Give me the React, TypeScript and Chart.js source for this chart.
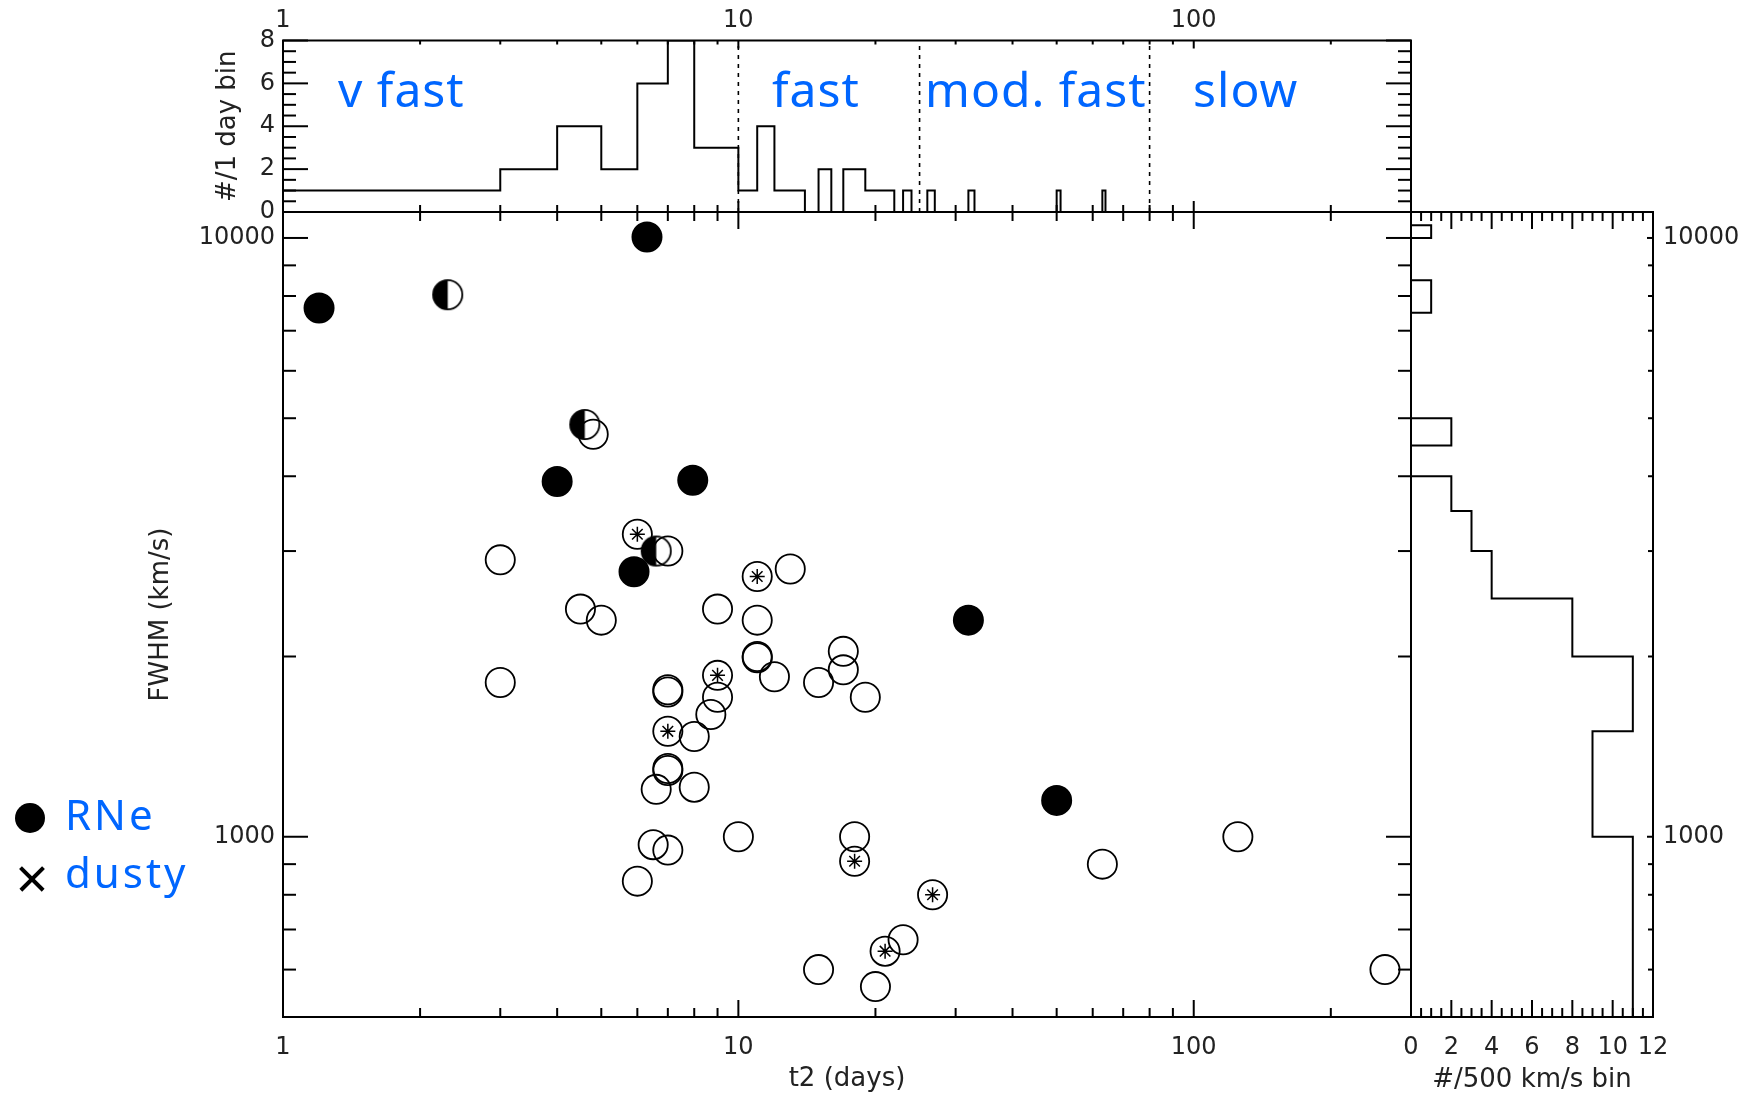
import React, { useEffect, useRef } from 'react';
import { Chart, registerables } from 'chart.js';

Chart.register(...registerables);

// ---------------- data ----------------
// Recurrent novae (filled circles)
const rneT2 = [1.2, 6.3, 4.0, 7.94, 5.9, 32, 50];
const rneFwhm = [7640, 10040, 3920, 3940, 2770, 2300, 1150];
// half-filled symbols
const halfT2 = [2.3, 4.6, 6.6];
const halfFwhm = [8040, 4880, 3000];
// dusty novae (circle with asterisk)
const dustyT2 = [6.0, 11, 9.0, 7.0, 18, 26.7, 21];
const dustyFwhm = [3200, 2720, 1860, 1500, 910, 800, 644];
// other novae (open circles)
const otherT2 = [4.8, 7.0, 3.0, 13, 4.5, 5.0, 9.0, 11, 11, 11, 12, 17, 17, 15, 19, 3.0, 7.0, 7.0, 9.0, 8.7, 8.0, 7.0, 7.0, 6.6, 8.0, 6.5, 7.0, 6.0, 10, 18, 125, 63, 23, 263, 15, 20];
const otherFwhm = [4700, 3000, 2900, 2800, 2400, 2300, 2400, 2300, 2000, 1990, 1850, 2040, 1900, 1810, 1710, 1810, 1760, 1745, 1710, 1600, 1470, 1300, 1290, 1200, 1210, 970, 950, 843, 1000, 1000, 1000, 900, 673, 600, 600, 562];

// t2 histogram (1 day bins): lower bin edges and counts
const t2BinLow = [1, 2, 3, 4, 5, 6, 7, 8, 9, 10, 11, 12, 13, 15, 17, 18, 19, 20, 21, 23, 26, 32, 50, 63];
const t2BinCount = [1, 1, 2, 4, 2, 6, 8, 3, 3, 1, 4, 1, 1, 2, 2, 2, 1, 1, 1, 1, 1, 1, 1, 1];
const t2BinWidth = 1;

// FWHM histogram (500 km/s bins)
const fwhmBinLow = [500, 1000, 1500, 2000, 2500, 3000, 3500, 4500, 7500, 8000, 10000];
const fwhmBinCount = [11, 9, 11, 8, 4, 3, 2, 2, 1, 1, 1];
const fwhmBinWidth = 500;

// speed class boundaries (days)
const speedClassBounds = [10, 25, 80];
const speedClassNames = ['v fast', 'fast', 'mod. fast', 'slow'];

// axis ranges and tick labels
const t2Range = [1, 300];
const fwhmRange = [500, 11050];
const histYRange = [0, 8];
const sideXRange = [0, 12];
const t2TickLabels = [1, 10, 100];
const t2MinorTicks = [2, 3, 4, 5, 6, 7, 8, 9, 20, 30, 40, 50, 60, 70, 80, 90, 200];
const fwhmTickLabels = [1000, 10000];
const fwhmMinorTicks = [600, 700, 800, 900, 2000, 3000, 4000, 5000, 6000, 7000, 8000, 9000];
const histYTickLabels = [0, 2, 4, 6, 8];
const histYMinorTicks = [0.5, 1, 1.5, 2.5, 3, 3.5, 4.5, 5, 5.5, 6.5, 7, 7.5];
const sideXTickLabels = [0, 2, 4, 6, 8, 10, 12];
const sideXMinorTicks = [0.5, 1, 1.5, 2.5, 3, 3.5, 4.5, 5, 5.5, 6.5, 7, 7.5, 8.5, 9, 9.5, 10.5, 11, 11.5];

// ---------------- helpers ----------------
const tickFont = { family: 'DejaVu Sans', size: 24 };
const titleFont = { family: 'DejaVu Sans', size: 26 };
const textColor = '#222';
const BLUE = '#0066ff';

function stepOutline(lows: number[], counts: number[], width: number, swap: boolean) {
  const pts: { x: number; y: number }[] = [];
  const push = (b: number, c: number) => pts.push(swap ? { x: c, y: b } : { x: b, y: c });
  for (let i = 0; i < lows.length; i++) {
    const lo = lows[i];
    const hi = lo + width;
    if (i === 0) push(lo, 0);
    else {
      const prevHi = lows[i - 1] + width;
      if (prevHi !== lo) {
        push(prevHi, 0);
        push(lo, 0);
      }
    }
    push(lo, counts[i]);
    push(hi, counts[i]);
  }
  push(lows[lows.length - 1] + width, 0);
  return pts;
}

function fixedSize(size: number, horizontal: boolean) {
  return (s: any) => {
    if (horizontal) s.height = size;
    else s.width = size;
    s.paddingLeft = 0;
    s.paddingRight = 0;
    s.paddingTop = 0;
    s.paddingBottom = 0;
  };
}

function setTicks(values: number[]) {
  return (s: any) => {
    s.ticks = values.map((v) => ({ value: v }));
  };
}

type TickSpec = { scale: string; side: 'top' | 'bottom' | 'left' | 'right'; values: number[]; len: number };

function framePlugin(id: string, specs: TickSpec[]) {
  return {
    id,
    afterDatasetsDraw(chart: any) {
      const { ctx, chartArea: a } = chart;
      ctx.save();
      ctx.strokeStyle = '#000';
      ctx.lineWidth = 2;
      ctx.lineCap = 'butt';
      for (const sp of specs) {
        const sc = chart.scales[sp.scale];
        for (const v of sp.values) {
          const p = sc.getPixelForValue(v);
          ctx.beginPath();
          if (sp.side === 'bottom') {
            ctx.moveTo(p, a.bottom);
            ctx.lineTo(p, a.bottom - sp.len);
          } else if (sp.side === 'top') {
            ctx.moveTo(p, a.top);
            ctx.lineTo(p, a.top + sp.len);
          } else if (sp.side === 'left') {
            ctx.moveTo(a.left, p);
            ctx.lineTo(a.left + sp.len, p);
          } else {
            ctx.moveTo(a.right, p);
            ctx.lineTo(a.right - sp.len, p);
          }
          ctx.stroke();
        }
      }
      ctx.lineJoin = 'miter';
      ctx.strokeRect(a.left, a.top, a.right - a.left, a.bottom - a.top);
      ctx.restore();
    },
  };
}

function halfFilledSymbol(r: number, lw: number) {
  const size = Math.ceil(2 * (r + lw)) + 2;
  const c = document.createElement('canvas');
  c.width = size;
  c.height = size;
  const g = c.getContext('2d') as CanvasRenderingContext2D;
  const m = size / 2;
  g.fillStyle = '#000';
  g.beginPath();
  g.moveTo(m, m);
  g.arc(m, m, r, Math.PI / 2, (3 * Math.PI) / 2);
  g.closePath();
  g.fill();
  g.lineWidth = lw;
  g.strokeStyle = '#000';
  g.beginPath();
  g.arc(m, m, r, 0, Math.PI * 2);
  g.stroke();
  return c;
}

const zip = (xs: number[], ys: number[]) => xs.map((x, i) => ({ x, y: ys[i] }));

const baseAxis = {
  bounds: 'data',
  grid: { display: false, drawTicks: false },
  border: { display: false },
};

const R = 14.6;
const LW = 1.8;

export default function App() {
  const topRef = useRef<HTMLCanvasElement>(null);
  const mainRef = useRef<HTMLCanvasElement>(null);
  const sideRef = useRef<HTMLCanvasElement>(null);

  useEffect(() => {
    const charts: Chart[] = [];
    const common = {
      responsive: false,
      animation: false,
      events: [],
      plugins: { legend: { display: false }, tooltip: { enabled: false } },
    };

    // ---------- top histogram ----------
    charts.push(
      new Chart(topRef.current as HTMLCanvasElement, {
        type: 'scatter',
        data: {
          datasets: [
            {
              data: stepOutline(t2BinLow, t2BinCount, t2BinWidth, false),
              showLine: true,
              pointRadius: 0,
              borderColor: '#000',
              borderWidth: 2,
              tension: 0,
            },
            ...speedClassBounds.map((b) => ({
              data: [
                { x: b, y: histYRange[0] },
                { x: b, y: histYRange[1] },
              ],
              showLine: true,
              pointRadius: 0,
              borderColor: '#000',
              borderWidth: 1.6,
              borderDash: [4, 5],
            })),
          ],
        },
        options: {
          ...common,
          layout: { autoPadding: false, padding: { left: 0, right: 9, top: 0, bottom: 28 } },
          scales: {
            x: {
              ...baseAxis,
              type: 'logarithmic',
              position: 'top',
              min: t2Range[0],
              max: t2Range[1],
              afterBuildTicks: setTicks(t2TickLabels),
              afterFit: fixedSize(40.5, true),
              ticks: { autoSkip: false, maxRotation: 0, minRotation: 0, padding: 5, font: tickFont, color: textColor, callback: (v: any) => String(v) },
            },
            y: {
              ...baseAxis,
              type: 'linear',
              position: 'left',
              min: histYRange[0],
              max: histYRange[1],
              afterBuildTicks: setTicks(histYTickLabels),
              afterFit: fixedSize(283, false),
              ticks: { autoSkip: false, padding: 8, font: tickFont, color: textColor, callback: (v: any) => String(v) },
              title: { display: true, text: '#/1 day bin', font: titleFont, color: textColor, padding: { top: 213, bottom: 0 } },
            },
          },
        } as any,
        plugins: [
          framePlugin('frameTop', [
            { scale: 'y', side: 'left', values: histYTickLabels, len: 25 },
            { scale: 'y', side: 'left', values: histYMinorTicks, len: 13 },
            { scale: 'y', side: 'right', values: histYTickLabels, len: 25 },
            { scale: 'y', side: 'right', values: histYMinorTicks, len: 13 },
            { scale: 'x', side: 'top', values: t2TickLabels, len: 8 },
            { scale: 'x', side: 'top', values: t2MinorTicks, len: 4 },
            { scale: 'x', side: 'bottom', values: t2TickLabels, len: 11 },
            { scale: 'x', side: 'bottom', values: t2MinorTicks, len: 7 },
          ]),
        ],
      } as any)
    );

    // ---------- main scatter ----------
    const half = halfFilledSymbol(R, LW);
    charts.push(
      new Chart(mainRef.current as HTMLCanvasElement, {
        type: 'scatter',
        data: {
          datasets: [
            {
              label: 'RNe',
              data: zip(rneT2, rneFwhm),
              pointStyle: 'circle',
              pointRadius: R,
              borderWidth: LW,
              borderColor: '#000',
              backgroundColor: '#000',
            },
            {
              label: 'half',
              data: zip(halfT2, halfFwhm),
              pointStyle: half,
              pointRadius: R,
            },
            {
              label: 'dusty star',
              data: zip(dustyT2, dustyFwhm),
              pointStyle: 'star',
              pointRadius: 7.5,
              borderWidth: 1.5,
              borderColor: '#000',
              backgroundColor: '#000',
            },
            {
              label: 'dusty',
              data: zip(dustyT2, dustyFwhm),
              pointStyle: 'circle',
              pointRadius: R,
              borderWidth: LW,
              borderColor: '#000',
              backgroundColor: 'rgba(0,0,0,0)',
            },
            {
              label: 'other',
              data: zip(otherT2, otherFwhm),
              pointStyle: 'circle',
              pointRadius: R,
              borderWidth: LW,
              borderColor: '#000',
              backgroundColor: 'rgba(0,0,0,0)',
            },
          ],
        },
        options: {
          ...common,
          layout: { autoPadding: false, padding: { left: 0, right: 9, top: 12, bottom: 0 } },
          scales: {
            x: {
              ...baseAxis,
              type: 'logarithmic',
              position: 'bottom',
              min: t2Range[0],
              max: t2Range[1],
              afterBuildTicks: setTicks(t2TickLabels),
              afterFit: fixedSize(81, true),
              ticks: { autoSkip: false, maxRotation: 0, minRotation: 0, padding: 16, font: tickFont, color: textColor, callback: (v: any) => String(v) },
              title: { display: true, text: 't2 (days)', font: titleFont, color: textColor, padding: { top: 0, bottom: 3 } },
            },
            y: {
              ...baseAxis,
              type: 'logarithmic',
              position: 'left',
              min: fwhmRange[0],
              max: fwhmRange[1],
              afterBuildTicks: setTicks(fwhmTickLabels),
              afterFit: fixedSize(283, false),
              ticks: { autoSkip: false, padding: 8, font: tickFont, color: textColor, callback: (v: any) => String(v) },
              title: { display: true, text: 'FWHM (km/s)', font: titleFont, color: textColor, padding: { top: 146, bottom: 0 } },
            },
          },
        } as any,
        plugins: [
          framePlugin('frameMain', [
            { scale: 'x', side: 'bottom', values: t2TickLabels, len: 17 },
            { scale: 'x', side: 'bottom', values: t2MinorTicks, len: 9 },
            { scale: 'x', side: 'top', values: t2TickLabels, len: 17 },
            { scale: 'x', side: 'top', values: t2MinorTicks, len: 9 },
            { scale: 'y', side: 'left', values: fwhmTickLabels, len: 25 },
            { scale: 'y', side: 'left', values: fwhmMinorTicks, len: 13 },
            { scale: 'y', side: 'right', values: fwhmTickLabels, len: 25 },
            { scale: 'y', side: 'right', values: fwhmMinorTicks, len: 13 },
          ]),
        ],
      } as any)
    );

    // ---------- side histogram ----------
    charts.push(
      new Chart(sideRef.current as HTMLCanvasElement, {
        type: 'scatter',
        data: {
          datasets: [
            {
              data: stepOutline(fwhmBinLow, fwhmBinCount, fwhmBinWidth, true),
              showLine: true,
              pointRadius: 0,
              borderColor: '#000',
              borderWidth: 2,
              tension: 0,
            },
          ],
        },
        options: {
          ...common,
          layout: { autoPadding: false, padding: { left: 11, right: 0, top: 12, bottom: 0 } },
          scales: {
            x: {
              ...baseAxis,
              type: 'linear',
              position: 'bottom',
              min: sideXRange[0],
              max: sideXRange[1],
              afterBuildTicks: setTicks(sideXTickLabels),
              afterFit: fixedSize(81, true),
              ticks: { autoSkip: false, maxRotation: 0, minRotation: 0, padding: 16, font: tickFont, color: textColor, callback: (v: any) => String(v) },
              title: { display: true, text: '#/500 km/s bin', font: titleFont, color: textColor, padding: { top: 0, bottom: 2 } },
            },
            y: {
              ...baseAxis,
              type: 'logarithmic',
              position: 'right',
              min: fwhmRange[0],
              max: fwhmRange[1],
              afterBuildTicks: setTicks(fwhmTickLabels),
              afterFit: fixedSize(98, false),
              ticks: { autoSkip: false, padding: 10, font: tickFont, color: textColor, callback: (v: any) => String(v) },
            },
          },
        } as any,
        plugins: [
          framePlugin('frameSide', [
            { scale: 'x', side: 'bottom', values: sideXTickLabels, len: 17 },
            { scale: 'x', side: 'bottom', values: sideXMinorTicks, len: 9 },
            { scale: 'x', side: 'top', values: sideXTickLabels, len: 17 },
            { scale: 'x', side: 'top', values: sideXMinorTicks, len: 9 },
            { scale: 'y', side: 'right', values: fwhmTickLabels, len: 6 },
            { scale: 'y', side: 'right', values: fwhmMinorTicks, len: 5 },
          ]),
        ],
      } as any)
    );

    return () => charts.forEach((c) => c.destroy());
  }, []);

  const classLabelStyle = (left: number): React.CSSProperties => ({
    position: 'absolute',
    left,
    top: 64.5,
    fontFamily: "'Noto Sans', sans-serif",
    fontSize: 48,
    lineHeight: 1,
    letterSpacing: 1,
    color: BLUE,
    whiteSpace: 'nowrap',
  });
  const classLefts = [338, 772, 925, 1193];

  const legendText = (top: number): React.CSSProperties => ({
    position: 'absolute',
    left: 65,
    top,
    fontFamily: "'Noto Sans', sans-serif",
    fontSize: 42,
    lineHeight: 1,
    letterSpacing: 3,
    color: BLUE,
    whiteSpace: 'nowrap',
  });
  const bar = (deg: number): React.CSSProperties => ({
    position: 'absolute',
    left: 32 - 16,
    top: 879 - 1.75,
    width: 32,
    height: 3.5,
    background: '#000',
    transform: `rotate(${deg}deg)`,
  });

  return (
    <div style={{ position: 'absolute', left: 0, top: 0, width: 1751, height: 1098, background: '#fff', overflow: 'hidden' }}>
      <canvas ref={mainRef} width={1420} height={898} style={{ position: 'absolute', left: 0, top: 200 }} />
      <canvas ref={sideRef} width={351} height={898} style={{ position: 'absolute', left: 1400, top: 200 }} />
      <canvas ref={topRef} width={1420} height={240} style={{ position: 'absolute', left: 0, top: 0 }} />
      {speedClassNames.map((n, i) => (
        <div key={n} style={classLabelStyle(classLefts[i])}>
          {n}
        </div>
      ))}
      <div style={{ position: 'absolute', left: 15, top: 803, width: 30, height: 30, borderRadius: '50%', background: '#000' }} />
      <div style={legendText(792.7)}>RNe</div>
      <div style={bar(45)} />
      <div style={bar(-45)} />
      <div style={legendText(850.7)}>dusty</div>
    </div>
  );
}
